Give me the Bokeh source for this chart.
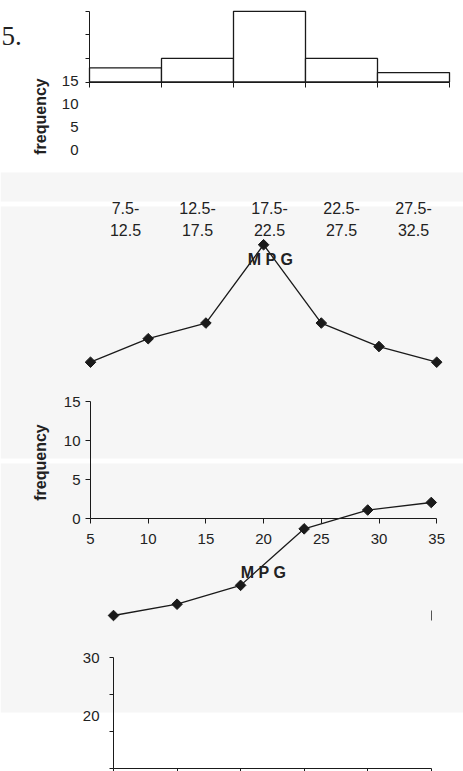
import numpy as np
from bokeh.plotting import figure
from bokeh.models import Range1d, LinearAxis, FixedTicker, Label, BoxAnnotation
from bokeh.embed import file_html
from bokeh.resources import INLINE

# ---------------- data ----------------
class_lower = [7.5, 12.5, 17.5, 22.5, 27.5]
class_upper = [12.5, 17.5, 22.5, 27.5, 32.5]
class_mid = [10, 15, 20, 25, 30]
class_labels = ["7.5-\n12.5", "12.5-\n17.5", "17.5-\n22.5", "22.5-\n27.5", "27.5-\n32.5"]
frequency = [3, 5, 15, 5, 2]

polygon_mpg = [5, 10, 15, 20, 25, 30, 35]
polygon_freq = [0, 3, 5, 15, 5, 2, 0]

ogive_mpg = [7.5, 12.5, 17.5, 22.5, 27.5, 32.5]
ogive_cum = [0, 3, 8, 23, 28, 30]

freq_ticks = [0, 5, 10, 15]
mpg_ticks = [5, 10, 15, 20, 25, 30, 35]
boundary_ticks = [7.5, 12.5, 17.5, 22.5, 27.5, 32.5]
cum_ticks = [0, 10, 20, 30]
cum_label_ticks = [20, 30]

# ---------------- layout ----------------
W, H = 463, 771
OFF = 0
INK = "#1a1a1a"
TXT = "#222222"
GRAY = "#f6f6f6"
FONT = "Liberation Sans"


def xr(d0, p0, s):
    return Range1d(start=d0 + (OFF - p0) / s, end=d0 + (OFF + W - p0) / s)


def yr(d0, p0, s):
    return Range1d(start=d0 - (OFF + H - p0) / s, end=d0 + (p0 - OFF) / s)


p = figure(width=W, height=H, x_range=Range1d(OFF, OFF + W), y_range=Range1d(OFF + H, OFF),
           output_backend="svg", toolbar_location=None, x_axis_location=None,
           y_axis_location=None, min_border=0, outline_line_color=None,
           background_fill_color="white", border_fill_color="white")
p.xgrid.grid_line_color = None
p.ygrid.grid_line_color = None

p.extra_x_ranges = {
    "hx": xr(7.5, 89, 14.4),
    "px": xr(5, 90, 11.54),
    "ox": xr(7.5, 113, 12.71),
}
p.extra_y_ranges = {
    "hy": yr(0, 81.5, 4.71),
    "hly": yr(15, 80.7, 4.573),
    "py": yr(0, 361.7, 7.83),
    "cy": yr(0, 518, 7.8),
    "oy": yr(0, 615, 3.767),
    "c4y": yr(30, 657, 3.7),
    "c4ly": yr(30, 657, 5.8),
}

# background bands of the scanned page
for top, bottom in [(172, 201), (206, 458), (463, 712)]:
    p.add_layout(BoxAnnotation(top=top, bottom=bottom, fill_color=GRAY, fill_alpha=1,
                               line_color=None, level="underlay"))


def add_axis(side, xname, yname, loc, ticks, bounds=None, tick_out=4, tick_in=0,
             line=True, labels=False, size="15px", standoff=5, tick_color=INK,
             overrides=None, line_height=1.2):
    kw = dict(x_range_name=xname, y_range_name=yname, fixed_location=loc,
              ticker=FixedTicker(ticks=ticks), major_tick_out=tick_out,
              major_tick_in=tick_in, minor_tick_line_color=None,
              major_tick_line_color=tick_color, axis_line_color=INK if line else None,
              major_label_text_font=FONT, major_label_text_font_size=size,
              major_label_text_color=TXT if labels else None,
              major_label_standoff=standoff, major_label_text_line_height=line_height)
    if bounds is not None:
        kw["bounds"] = bounds
    ax = LinearAxis(**kw)
    if overrides:
        ax.major_label_overrides = overrides
    p.add_layout(ax, side)
    return ax


# ---------- chart 1: histogram ----------
p.quad(left=class_lower, right=class_upper, bottom=0, top=frequency,
       x_range_name="hx", y_range_name="hy", fill_color="white",
       line_color=INK, line_width=1.3)
add_axis("left", "hx", "hy", 7.5, freq_ticks, bounds=(0, 15), tick_out=4)
add_axis("below", "hx", "hy", 0, boundary_ticks, bounds=(7.5, 32.5), tick_out=5)
add_axis("left", "default", "hly", 83, freq_ticks, tick_out=0, line=False,
         labels=True, tick_color=None)
add_axis("below", "hx", "default", 196, class_mid, tick_out=0, line=False,
         labels=True, tick_color=None, size="16px", standoff=3, line_height=1.3,
         overrides={m: lab for m, lab in zip(class_mid, class_labels)})

# ---------- chart 2: frequency polygon ----------
p.line(polygon_mpg, polygon_freq, x_range_name="px", y_range_name="py",
       line_color=INK, line_width=1.3)
p.scatter(polygon_mpg, polygon_freq, x_range_name="px", y_range_name="py",
          marker="square", angle=np.pi / 4, size=7.5, fill_color=INK, line_color=INK)

# ---------- chart 3: empty frequency axes ----------
add_axis("below", "px", "cy", 0, mpg_ticks, bounds=(5, 35), tick_out=5,
         labels=True, standoff=10)
add_axis("left", "px", "cy", 5, freq_ticks, bounds=(0, 15), tick_out=5,
         labels=True, standoff=5)

# ---------- chart 4: ogive ----------
p.line(ogive_mpg, ogive_cum, x_range_name="ox", y_range_name="oy",
       line_color=INK, line_width=1.3)
p.scatter(ogive_mpg, ogive_cum, x_range_name="ox", y_range_name="oy",
          marker="square", angle=np.pi / 4, size=7.5, fill_color=INK, line_color=INK)
add_axis("below", "ox", "oy", 0, boundary_ticks[-1:], tick_out=5, tick_in=5,
         line=False, tick_color="#555555")
add_axis("left", "ox", "c4y", 7.5, cum_ticks, bounds=(0, 30), tick_out=4)
add_axis("below", "ox", "c4y", 0, boundary_ticks, bounds=(7.5, 32.5), tick_out=4)
add_axis("left", "default", "c4ly", 104, cum_label_ticks, tick_out=0, line=False,
         labels=True, tick_color=None)

# ---------- texts ----------
def label(x, y, text, angle=0, bold=True, size="16px", font=FONT, align="center",
          baseline="middle"):
    p.add_layout(Label(x=x, y=y, text=text, angle=angle, text_font=font,
                       text_font_size=size, text_font_style="bold" if bold else "normal",
                       text_color=TXT, text_align=align, text_baseline=baseline))


label(1, 35, "5.", bold=False, size="27px", font="Liberation Serif", align="left",
      baseline="alphabetic")
label(40, 116, "frequency", angle=np.pi / 2)
label(270, 259, "M P G")
label(40, 462, "frequency", angle=np.pi / 2)
label(263, 572, "M P G")

open("out.html", "w").write(file_html(p, INLINE))
